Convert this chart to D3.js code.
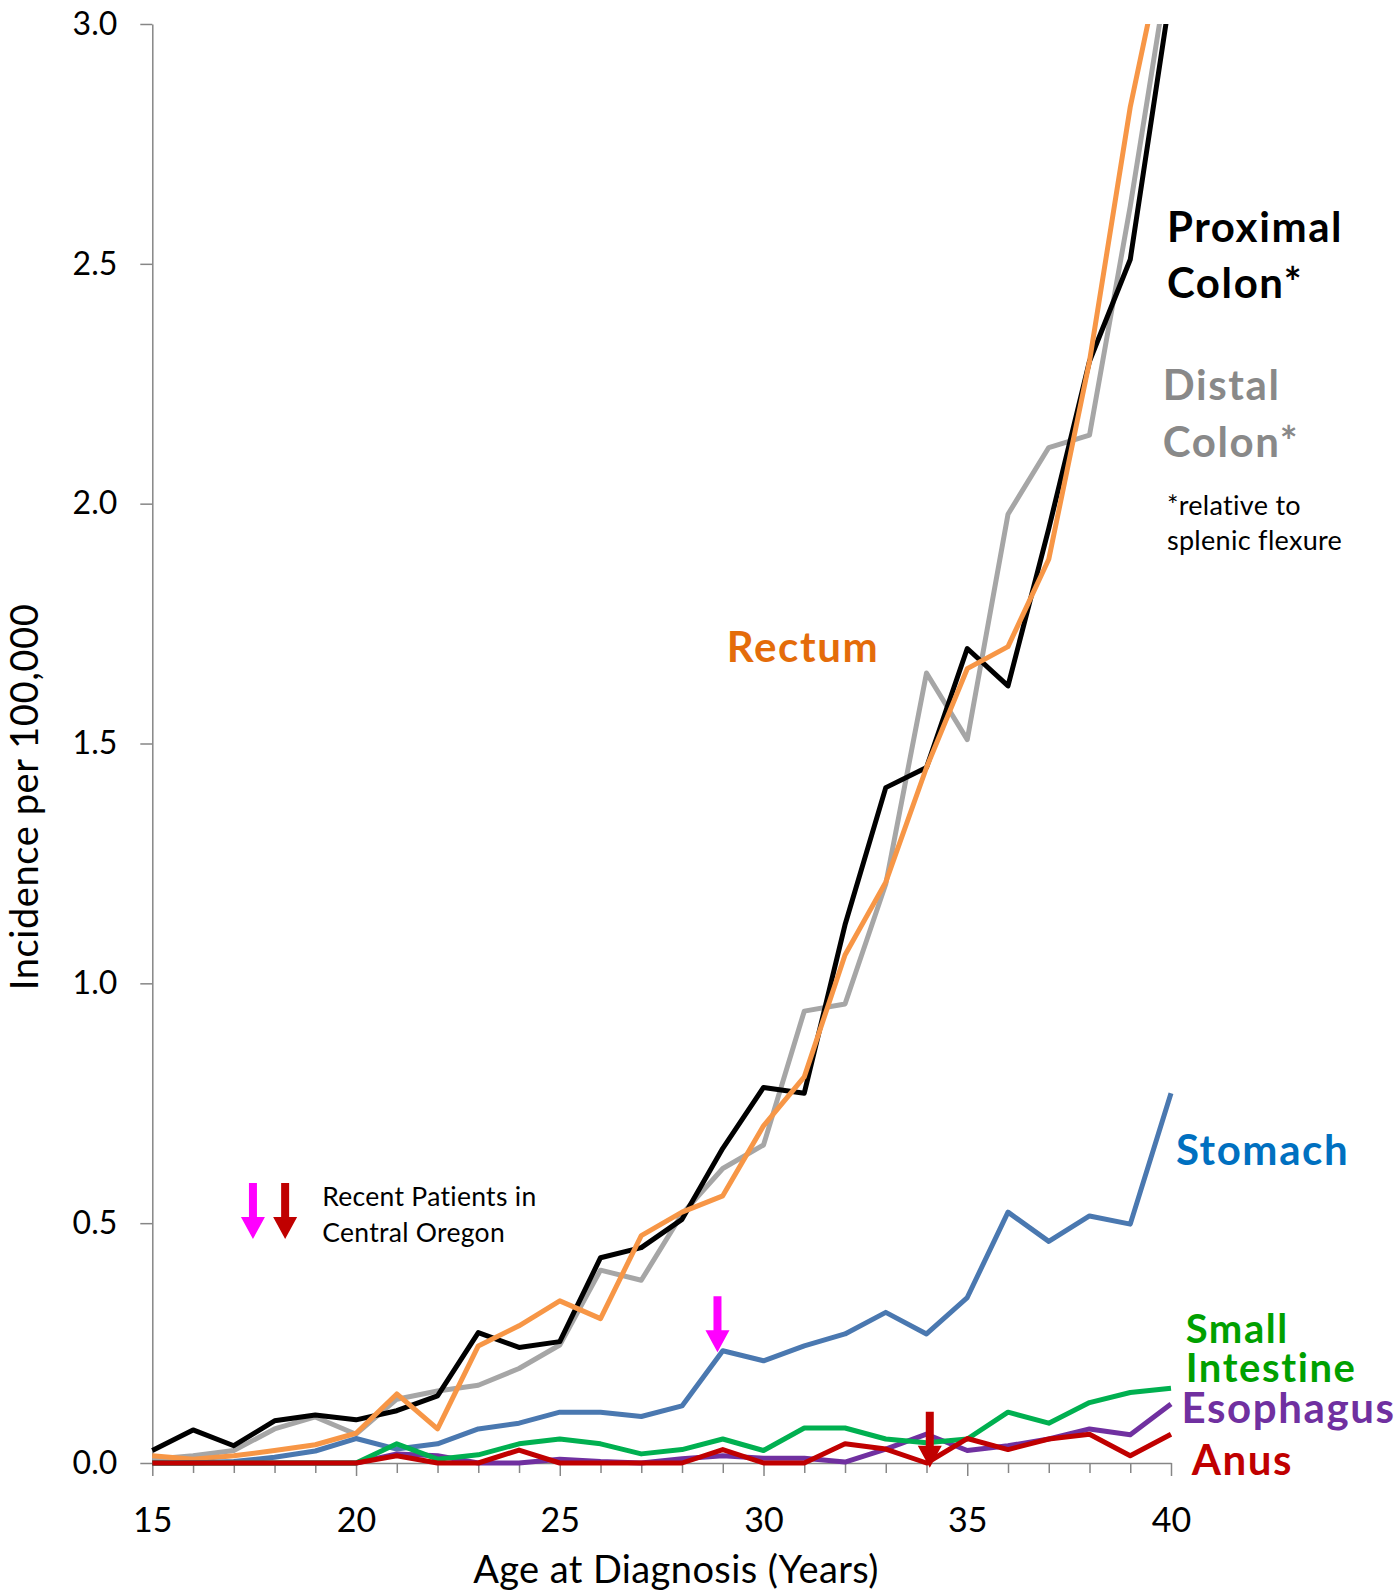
<!DOCTYPE html>
<html>
<head>
<meta charset="utf-8">
<script src="https://cdn.jsdelivr.net/npm/d3@7"></script>
<style>
  body { margin: 0; background: #fff; }
  text { font-family: Lato, "Open Sans", sans-serif; }
</style>
</head>
<body>
<div class="chart-container"></div>
<script>
// Data
const ages = d3.range(15, 41);
const proximal = [0.026,0.069,0.036,0.088,0.100,0.090,0.109,0.140,0.272,0.241,0.253,0.428,0.449,0.508,0.656,0.783,0.771,1.122,1.408,1.450,1.698,1.620,1.948,2.297,2.509,3.07];
const distal   = [0.008,0.015,0.026,0.071,0.096,0.060,0.133,0.150,0.162,0.197,0.246,0.402,0.381,0.519,0.614,0.663,0.942,0.957,1.207,1.647,1.508,1.978,2.117,2.143,2.620,3.15];
const rectum   = [0.015,0.008,0.015,0.026,0.038,0.062,0.144,0.071,0.244,0.286,0.338,0.301,0.474,0.523,0.557,0.703,0.805,1.059,1.211,1.450,1.656,1.702,1.884,2.297,2.827,3.23];
const stomach  = [0,0,0.003,0.012,0.025,0.051,0.029,0.040,0.071,0.083,0.106,0.106,0.097,0.119,0.234,0.213,0.244,0.269,0.314,0.269,0.345,0.523,0.462,0.515,0.498,0.771];
const smallInt = [0,0,0,0,0,0,0.040,0.008,0.017,0.040,0.050,0.040,0.019,0.028,0.050,0.026,0.073,0.073,0.050,0.042,0.050,0.106,0.083,0.126,0.147,0.156];
const esophagus= [0,0,0,0,0,0,0.019,0.015,0,0,0.008,0.003,0,0.009,0.015,0.010,0.010,0.002,0.029,0.060,0.026,0.036,0.050,0.071,0.059,0.123];
const anus     = [0,0,0,0,0,0,0.015,0,0,0.027,0,0,0,0,0.028,0,0,0.040,0.029,0,0.051,0.028,0.050,0.060,0.015,0.060];
const yTicks = [0, 0.5, 1.0, 1.5, 2.0, 2.5, 3.0];

// Series (draw order)
const series = [
  {name: "Distal", values: distal, color: "#a6a6a6"},
  {name: "Proximal", values: proximal, color: "#000000"},
  {name: "Rectum", values: rectum, color: "#f79646"},
  {name: "Stomach", values: stomach, color: "#4a78b0"},
  {name: "Esophagus", values: esophagus, color: "#7030a0"},
  {name: "Small Intestine", values: smallInt, color: "#00b050"},
  {name: "Anus", values: anus, color: "#c00000"}
];

// Labels (age, baseline value of each line)
const labels = [
  {lines: ["Proximal", "Colon*"], age: 39.90, v: [2.546, 2.429], color: "#000", size: 42, bold: true},
  {lines: ["Distal", "Colon*"], age: 39.80, v: [2.216, 2.097], color: "#898989", size: 42, bold: true},
  {lines: ["*relative to", "splenic flexure"], age: 39.90, v: [1.976, 1.903], color: "#000", size: 27, bold: false},
  {lines: ["Rectum"], age: 29.10, v: [1.670], color: "#e46c0a", size: 42, bold: true},
  {lines: ["Stomach"], age: 40.12, v: [0.621], color: "#0070c0", size: 42, bold: true},
  {lines: ["Small", "Intestine"], age: 40.36, v: [0.250, 0.169], color: "#00a000", size: 40, bold: true},
  {lines: ["Esophagus"], age: 40.26, v: [0.083], color: "#7030a0", size: 42, bold: true},
  {lines: ["Anus"], age: 40.51, v: [-0.025], color: "#c00000", size: 42, bold: true},
  {lines: ["Recent Patients in", "Central Oregon"], age: 19.17, v: [0.536, 0.461], color: "#000", size: 26.5, bold: false}
];

// Arrows (tip position)
const arrows = [
  {age: 28.87, v: 0.231, color: "#ff00ff"},
  {age: 34.08, v: -0.010, color: "#c00000"},
  {age: 17.47, v: 0.467, color: "#ff00ff"},
  {age: 18.26, v: 0.467, color: "#c00000"}
];

const width = 1396, height = 1592;
const margin = {top: 24, bottom: 129, left: 152.3, right: 225};

let svg = d3.select(".chart-container").append("svg")
  .attr("width", width).attr("height", height);

// Scales
const x = d3.scaleLinear().domain([15, 40]).range([margin.left, width - margin.right]);
const y = d3.scaleLinear().domain([0, 3]).range([height - margin.bottom, margin.top]);

// Clip top of plot
svg.append("clipPath").attr("id", "clip")
  .append("rect").attr("x", 0).attr("y", margin.top).attr("width", width).attr("height", height);

const axisColor = "#868686";

// Y axis
const yAxis = svg.append("g")
  .attr("transform", `translate(${margin.left},0)`)
  .call(d3.axisLeft(y).tickValues(yTicks).tickFormat(d3.format(".1f"))
    .tickSize(12).tickSizeOuter(0).tickPadding(23));
yAxis.selectAll("text").style("font-size", "32px").attr("fill", "#000");

// X axis
const xAxis = svg.append("g")
  .attr("transform", `translate(0,${height - margin.bottom})`)
  .call(d3.axisBottom(x).tickValues(ages).tickFormat(d => d % 5 === 0 ? d : "")
    .tickSize(10).tickSizeOuter(0).tickPadding(35));
xAxis.selectAll("text").style("font-size", "34px").attr("fill", "#000");
xAxis.selectAll(".tick line").attr("y2", d => d % 5 === 0 ? 13 : 10);

svg.selectAll(".domain, .tick line").attr("stroke", axisColor).attr("stroke-width", 1.5);

// Axis titles
svg.append("text")
  .attr("x", 676).attr("y", 1583)
  .attr("text-anchor", "middle").style("font-size", "38px").style("letter-spacing", "0.4px")
  .text("Age at Diagnosis (Years)");
svg.append("text")
  .attr("transform", "translate(38,797) rotate(-90)")
  .attr("text-anchor", "middle").style("font-size", "38px").style("letter-spacing", "0.6px")
  .text("Incidence per 100,000");

// Lines
const line = d3.line().x((d, i) => x(ages[i])).y(d => y(d));
svg.append("g").attr("clip-path", "url(#clip)")
  .selectAll("path")
  .data(series)
  .enter().append("path")
    .attr("d", d => line(d.values))
    .attr("fill", "none")
    .attr("stroke", d => d.color)
    .attr("stroke-width", 5)
    .attr("stroke-linejoin", "round");

// Arrows
function arrowPath(tx, ty) {
  const len = 56, shaft = 4, head = 12, headLen = 22;
  return `M${tx - shaft},${ty - len} L${tx + shaft},${ty - len} L${tx + shaft},${ty - headLen}` +
    ` L${tx + head},${ty - headLen} L${tx},${ty} L${tx - head},${ty - headLen}` +
    ` L${tx - shaft},${ty - headLen} Z`;
}
svg.append("g").selectAll("path")
  .data(arrows)
  .enter().append("path")
    .attr("d", d => arrowPath(x(d.age), y(d.v)))
    .attr("fill", d => d.color);

// Labels
const lbl = svg.append("g").selectAll("text")
  .data(labels)
  .enter().append("text")
    .attr("fill", d => d.color)
    .style("font-size", d => d.size + "px")
    .style("font-weight", d => d.bold ? "bold" : "normal")
    .style("letter-spacing", d => d.bold ? "1.6px" : "0.3px");
lbl.selectAll("tspan")
  .data(d => d.lines.map((t, i) => ({t: t, age: d.age, v: d.v[i]})))
  .enter().append("tspan")
    .attr("x", d => x(d.age))
    .attr("y", d => y(d.v))
    .text(d => d.t);
</script>
</body>
</html>
